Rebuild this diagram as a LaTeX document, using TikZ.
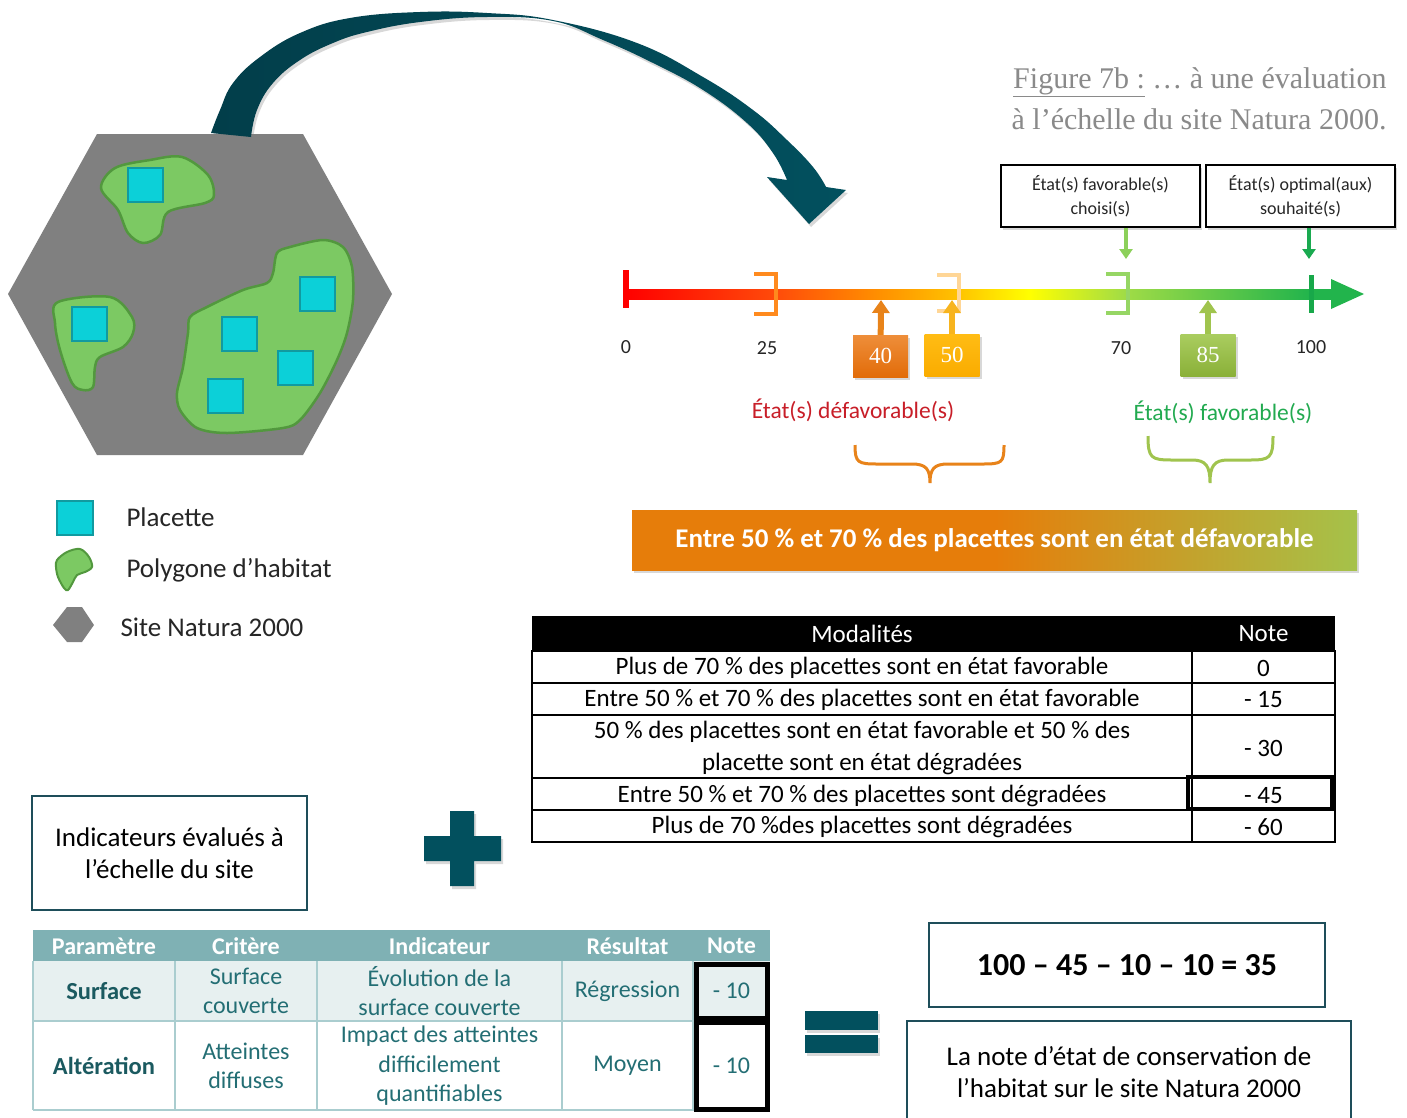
\documentclass[tikz,border=0pt]{standalone}
\usepackage{fontspec}
\setmainfont{Carlito}
\newfontfamily\titlefont{Liberation Serif}
\usetikzlibrary{arrows.meta,shadows}
\newcommand\fsz[2]{\fontsize{#1}{#2}\selectfont}
\definecolor{sitegray}{RGB}{128,128,128}
\definecolor{habgreen}{RGB}{124,201,99}
\definecolor{habedge}{RGB}{82,152,62}
\definecolor{plcyan}{RGB}{12,208,216}
\definecolor{pledge}{RGB}{17,154,160}
\definecolor{arrowteal}{RGB}{2,80,94}
\definecolor{arrowdark}{RGB}{2,62,74}
\definecolor{txtgray}{RGB}{38,38,38}
\definecolor{titlegray}{RGB}{138,138,138}
\definecolor{axisA}{RGB}{255,75,10}
\definecolor{axisB}{RGB}{255,145,0}
\definecolor{axisC}{RGB}{255,192,0}
\definecolor{axisD}{RGB}{255,255,0}
\definecolor{axisE}{RGB}{160,220,70}
\definecolor{tickorange}{RGB}{255,138,30}
\definecolor{tickpale}{RGB}{255,214,150}
\definecolor{ticklime}{RGB}{150,214,100}
\definecolor{tickgreen}{RGB}{24,168,74}
\definecolor{headgreen}{RGB}{34,180,76}
\definecolor{ptrorange}{RGB}{232,131,26}
\definecolor{ptrgold}{RGB}{247,180,30}
\definecolor{ptrolive}{RGB}{160,196,78}
\definecolor{ptrlime}{RGB}{140,208,90}
\definecolor{ptrgreen}{RGB}{26,170,80}
\definecolor{defred}{RGB}{200,30,40}
\definecolor{favgreen}{RGB}{34,170,80}
\definecolor{barorange}{RGB}{230,125,10}
\definecolor{barlime}{RGB}{165,194,74}
\definecolor{boxteal}{RGB}{30,78,90}
\definecolor{tabhead}{RGB}{127,177,180}
\definecolor{tabrow}{RGB}{231,240,240}
\definecolor{tabline}{RGB}{170,205,207}
\definecolor{tabtext}{RGB}{35,110,116}
\definecolor{tabdark}{RGB}{27,90,96}
\pgfdeclarehorizontalshading{axisshade}{100bp}{color(0bp)=(red); color(25bp)=(red); color(35.6bp)=(axisA); color(43bp)=(axisB); color(48.2bp)=(axisC); color(53.5bp)=(axisD); color(60.2bp)=(axisE); color(73.2bp)=(headgreen); color(100bp)=(headgreen)}
\pgfdeclarehorizontalshading{barshade}{100bp}{color(0bp)=(barorange); color(50bp)=(barorange); color(75bp)=(barlime); color(100bp)=(barlime)}
\begin{document}
\begin{tikzpicture}[x=1pt, y=-1pt,
    placette/.style={fill=plcyan, draw=pledge, line width=2},
    habitat/.style={fill=habgreen, draw=habedge, line width=2.5},
    legtext/.style={anchor=west, font=\fsz{27}{30}, text=txtgray},
    softshadow/.style={drop shadow={opacity=0.3, shadow xshift=2pt, shadow yshift=-3pt}},
    ptr/.style={line width=6, -{Triangle[width=17pt,length=13pt]}},
    lblptr/.style={line width=4, -{Triangle[width=13pt,length=10pt]}},
    valbox/.style={minimum width=55, minimum height=42, inner sep=0, font=\titlefont\fsz{23}{24}, text=white, softshadow},
    lblbox/.style={draw=black, line width=1.5, fill=white, minimum height=62, align=center, font=\fsz{18}{24}, text=txtgray, softshadow},
    ticklbl/.style={font=\fsz{20}{22}, text=txtgray},
    cell/.style={font=\fsz{25}{32}, align=center, text=black},
    tabcell/.style={font=\fsz{24}{29.5}, align=center, text=tabtext},
    tealbox/.style={draw=boxteal, line width=2, align=center, text=black},
    signfill/.style={fill=arrowteal, softshadow}]
\path[use as bounding box, fill=white] (0,0) rectangle (1407,1117);

\fill[sitegray] (97,134) -- (303,134) -- (392,294) -- (303,455) -- (97,455) -- (8,294) -- cycle;
\shade[left color=arrowdark, right color=arrowteal, softshadow] plot[smooth, tension=0.7] coordinates {(211,133) (220,110) (233,83) (260,57) (300,33) (350,18) (420,12) (487,13) (553,20) (637,43) (703,77) (753,110) (787,140) (813,167) (826,187)} -- (846,190) -- (809,224) -- (767,177) -- plot[smooth, tension=0.7] coordinates {(787,180) (773,153) (747,123) (703,90) (653,63) (603,40) (553,21) (487,17) (420,22) (367,32) (333,43) (300,60) (273,83) (257,110) (251,137)} -- cycle;

\draw[habitat] plot[smooth cycle, tension=0.55] coordinates {(101,188) (115,168) (150,160) (182,157) (208,175) (214,195) (205,203) (168,212) (160,235) (143,243) (128,233) (118,210)};
\draw[habitat] plot[smooth cycle, tension=0.55] coordinates {(58,302) (110,297) (132,317) (133,333) (123,347) (100,357) (95,367) (93,387) (83,390) (72,383) (60,350) (55,323)};
\draw[habitat] plot[smooth cycle, tension=0.5] coordinates {(277,253) (290,247) (323,240) (343,247) (352,267) (353,300) (347,333) (337,360) (320,393) (300,420) (283,428) (227,433) (197,428) (180,410) (177,393) (183,367) (188,333) (190,317) (207,307) (243,290) (267,283) (273,273)};
\draw[placette] (128,168) rectangle (163,202);
\draw[placette] (72,307) rectangle (107,341);
\draw[placette] (300,277) rectangle (335,311);
\draw[placette] (222,317) rectangle (257,351);
\draw[placette] (278,351) rectangle (313,385);
\draw[placette] (208,379) rectangle (243,413);

\draw[placette] (57,501) rectangle (93,535);
\node[legtext] (lplac) at (123,517) {Placette};
\draw[habitat, line width=2] plot[smooth cycle, tension=0.55] coordinates {(57,560) (67,552) (80,549) (89,557) (92,567) (85,572) (77,575) (73,582) (68,590) (64,588) (58,577) (56,567)};
\node[legtext] (lpoly) at (123,570) {Polygone d’habitat};
\fill[sitegray] (53,625) -- (67,607) -- (82,607) -- (94,625) -- (82,642) -- (67,642) -- cycle;
\node[legtext] (lsite) at (117,627) {Site Natura 2000};

\node[anchor=base east, font=\titlefont\fsz{30}{34}, text=titlegray] (title1) at (1390,88) {\underline{Figure 7b :} … à une évaluation};
\node[anchor=base east, font=\titlefont\fsz{30}{34}, text=titlegray] (title2) at (1390,129) {à l’échelle du site Natura 2000.};

\node[lblbox, minimum width=199] (bchoisi) at (1100.5,196) {État(s) favorable(s)\\choisi(s)};
\node[lblbox, minimum width=189] (boptimal) at (1300.5,196) {État(s) optimal(aux)\\souhaité(s)};

\shade[shading=axisshade] (625,289) rectangle (1335,299);
\fill[headgreen] (1331,279) -- (1364,294) -- (1331,309) -- cycle;
\draw[red, line width=6] (626,270) -- (626,308);
\draw[tickorange, line width=4] (754,274) -- (776,274) -- (776,314) -- (754,314);
\draw[tickpale, line width=4] (937,275) -- (959,275) -- (959,311) -- (937,311);
\draw[ticklime, line width=4] (1106,274) -- (1128,274) -- (1128,313) -- (1106,313);
\draw[tickgreen, line width=5] (1311,275) -- (1311,313);
\node[ticklbl] (t0) at (626,347) {0};
\node[ticklbl] (t25) at (767,348) {25};
\node[ticklbl] (t70) at (1121,348) {70};
\node[ticklbl] (t100) at (1311,347) {100};

\coordinate (a70) at (1126,259);
\coordinate (a100) at (1309,259);
\draw[lblptr, ptrlime] (bchoisi.south -| a70) -- (a70);
\draw[lblptr, ptrgreen] (boptimal.south -| a100) -- (a100);

\node[valbox, top color={rgb,255:red,238;green,142;blue,58}, bottom color={rgb,255:red,226;green,108;blue,9}] (v40) at (880.5,356) {40};
\node[valbox, top color={rgb,255:red,255;green,188;blue,20}, bottom color={rgb,255:red,250;green,172;blue,0}] (v50) at (952,355) {50};
\node[valbox, top color={rgb,255:red,170;green,205;blue,96}, bottom color={rgb,255:red,138;green,176;blue,56}] (v85) at (1208,355) {85};
\coordinate (a40) at (881,300);
\coordinate (a50) at (952,300);
\coordinate (a85) at (1208,300);
\draw[ptr, ptrorange] (v40) -- (a40);
\draw[ptr, ptrgold] (v50) -- (a50);
\draw[ptr, ptrolive] (v85) -- (a85);

\node[font=\fsz{23.5}{26}, text=defred] (ldef) at (853,410) {État(s) défavorable(s)};
\node[font=\fsz{23.5}{26}, text=favgreen] (lfav) at (1223,412) {État(s) favorable(s)};
\draw[ptrorange, line width=3] (855,445) .. controls (855,463) and (858,464) .. (878,464) -- (912,464) .. controls (926,464) and (930,469) .. (930,483) .. controls (930,469) and (934,464) .. (948,464) -- (982,464) .. controls (1002,464) and (1004,463) .. (1004,445);
\draw[ptrolive, line width=3] (1148,436) .. controls (1148,458) and (1151,460) .. (1172,460) -- (1192,460) .. controls (1206,460) and (1210,466) .. (1210,483) .. controls (1210,466) and (1214,460) .. (1228,460) -- (1250,460) .. controls (1270,460) and (1273,458) .. (1273,436);

\node[shade, shading=barshade, minimum width=725, minimum height=60, font=\bfseries\fsz{27}{30}, text=white, softshadow] (bar) at (994.5,540) {Entre 50 \% et 70 \% des placettes sont en état défavorable};

\fill[black] (532,616) rectangle (1335,651);
\draw[line width=1.2] (532,651) rectangle (1335,842);
\foreach \y in {683,715,778,810}
    \draw[line width=1.2] (532,\y) -- (1335,\y);
\draw[line width=1.2] (1192,651) -- (1192,842);
\node[cell, text=white] (hmod) at (862,634) {Modalités};
\node[cell, text=white] (hnote) at (1263.5,634) {Note};
\node[cell] (m1) at (862,668) {Plus de 70 \% des placettes sont en état favorable};
\node[cell] (m2) at (862,700) {Entre 50 \% et 70 \% des placettes sont en état favorable};
\node[cell] (m3) at (862,748) {50 \% des placettes sont en état favorable et 50 \% des\\placette sont en état dégradées};
\node[cell] (m4) at (862,796) {Entre 50 \% et 70 \% des placettes sont dégradées};
\node[cell] (m5) at (862,827) {Plus de 70 \%des placettes sont dégradées};
\node[cell] (n1) at (1263.5,668) {0};
\node[cell] (n2) at (1263.5,700) {- 15};
\node[cell] (n3) at (1263.5,748) {- 30};
\node[cell] (n4) at (1263.5,796) {- 45};
\node[cell] (n5) at (1263.5,827) {- 60};
\draw[line width=4] (1188,777) rectangle (1332,809);

\node[tealbox, minimum width=275, minimum height=114, font=\fsz{27}{32}] (indic) at (169.5,853) {Indicateurs évalués à\\l’échelle du site};
\fill[signfill] (450,811) -- (474,811) -- (474,836) -- (501,836) -- (501,861) -- (474,861) -- (474,886) -- (450,886) -- (450,861) -- (424,861) -- (424,836) -- (450,836) -- cycle;

\fill[tabhead] (33,930) rectangle (770,961);
\fill[tabrow] (33,961) rectangle (770,1021);
\draw[tabline, line width=1.2] (33,1021) -- (770,1021);
\draw[tabline, line width=1.2] (33,1110) -- (770,1110);
\foreach \x in {33,175,317,562,693}
    \draw[tabline, line width=1.2] (\x,961) -- (\x,1110);
\foreach \cx/\name/\txt in {104/hpar/Paramètre, 246/hcri/Critère, 439.5/hind/Indicateur, 627.5/hres/Résultat, 731.5/hnot/Note}
    \node[tabcell, text=white, font=\bfseries\fsz{24}{26}] (\name) at (\cx,946) {\txt};
\node[tabcell, text=tabdark, font=\bfseries\fsz{24.5}{29.5}] (psurf) at (104,991) {Surface};
\node[tabcell] (csurf) at (246,991) {Surface\\couverte};
\node[tabcell] (isurf) at (439.5,991) {Évolution de la\\surface couverte};
\node[tabcell] (rsurf) at (627.5,991) {Régression};
\node[tabcell] (nsurf) at (731.5,991) {- 10};
\node[tabcell, text=tabdark, font=\bfseries\fsz{24.5}{29.5}] (palt) at (104,1066) {Altération};
\node[tabcell] (calt) at (246,1066) {Atteintes\\diffuses};
\node[tabcell] (ialt) at (439.5,1066) {Impact des atteintes\\difficilement\\quantifiables};
\node[tabcell] (ralt) at (627.5,1066) {Moyen};
\node[tabcell] (nalt) at (731.5,1066) {- 10};
\draw[line width=5] (696,964) rectangle (767,1018);
\draw[line width=5] (696,1022) rectangle (767,1109);

\fill[signfill] (805,1011) rectangle (878,1030);
\fill[signfill] (805,1035) rectangle (878,1053);

\node[tealbox, minimum width=396, minimum height=84, font=\bfseries\fsz{32}{36}] (calc) at (1127,965) {100 – 45 – 10 – 10 = 35};
\node[tealbox, minimum width=444, minimum height=102, font=\fsz{27}{32}] (noteb) at (1129,1072) {La note d’état de conservation de\\l’habitat sur le site Natura 2000};
\end{tikzpicture}
\end{document}
